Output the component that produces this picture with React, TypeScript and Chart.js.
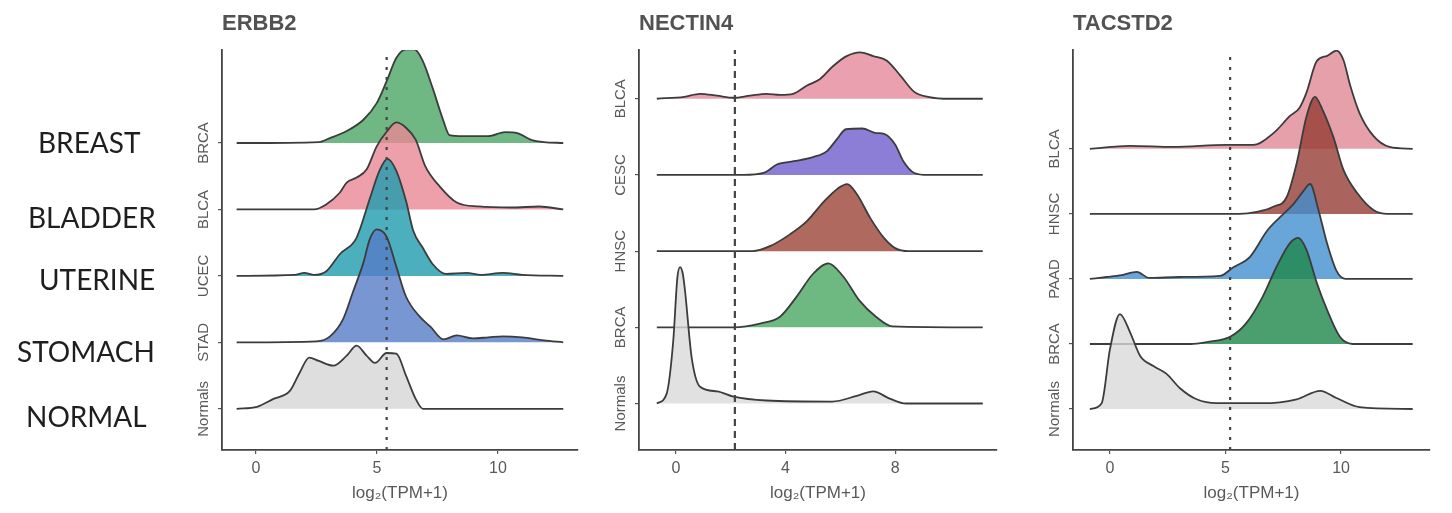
import React, { useEffect, useRef } from 'react';
import { Chart, registerables } from 'chart.js';

Chart.register(...registerables);

// ---------------- DATA ----------------
const leftLabels = ['BREAST', 'BLADDER', 'UTERINE', 'STOMACH', 'NORMAL'];
const axisTitle = 'log\u2082(TPM+1)';

// Panel 1: ERBB2 (categories top -> bottom)
const erbb2Title = 'ERBB2';
const erbb2Categories = ['BRCA', 'BLCA', 'UCEC', 'STAD', 'Normals'];
const erbb2Threshold = 5.4;
const erbb2XTicks = [0, 5, 10];
const erbb2BrcaX = [-0.8, 2.6, 3.06, 3.75, 4.44, 4.99, 5.4, 5.8, 6.2, 6.55, 6.9, 7.3, 7.75, 8.0, 8.55, 9.6, 10.3, 10.8, 11.4, 11.9, 12.7];
const erbb2BrcaD = [0, 0.015, 0.075, 0.18, 0.35, 0.6, 0.93, 1.28, 1.41, 1.41, 1.23, 0.83, 0.33, 0.12, 0.105, 0.105, 0.165, 0.15, 0.045, 0.015, 0];
const erbb2BlcaX = [-0.8, 2.4, 2.9, 3.47, 3.75, 4.16, 4.57, 4.99, 5.4, 5.8, 6.2, 6.6, 7.0, 7.6, 8.3, 9.2, 10.6, 11.7, 12.7];
const erbb2BlcaD = [0, 0, 0.075, 0.255, 0.405, 0.48, 0.6, 0.95, 1.17, 1.31, 1.23, 1.05, 0.65, 0.345, 0.105, 0.045, 0.03, 0.045, 0];
const erbb2UcecX = [-0.8, 1.6, 2.0, 2.4, 2.92, 3.47, 4.15, 4.71, 5.1, 5.43, 5.8, 6.2, 6.5, 6.9, 7.3, 7.85, 8.7, 9.3, 10.2, 11.0, 12.7];
const erbb2UcecD = [0, 0.015, 0.045, 0.015, 0.075, 0.33, 0.57, 1.17, 1.58, 1.76, 1.58, 1.13, 0.68, 0.42, 0.18, 0.03, 0.045, 0.015, 0.045, 0.015, 0];
const erbb2StadX = [-0.8, 2.5, 3.06, 3.6, 4.0, 4.44, 4.7, 4.99, 5.4, 5.8, 6.2, 6.76, 7.2, 7.75, 8.3, 8.96, 9.6, 10.2, 11.0, 11.9, 12.7];
const erbb2StadD = [0, 0.015, 0.09, 0.35, 0.75, 1.2, 1.55, 1.7, 1.59, 1.14, 0.69, 0.39, 0.24, 0.045, 0.105, 0.06, 0.075, 0.09, 0.075, 0.03, 0];
const erbb2NormX = [-0.8, 0.04, 0.72, 1.4, 1.8, 2.2, 2.6, 3.2, 3.75, 4.16, 4.57, 4.92, 5.4, 5.8, 6.2, 6.6, 6.9, 12.7];
const erbb2NormD = [0, 0.03, 0.15, 0.27, 0.54, 0.77, 0.72, 0.65, 0.8, 0.95, 0.8, 0.69, 0.84, 0.83, 0.5, 0.15, 0, 0];

// Panel 2: NECTIN4
const nectinTitle = 'NECTIN4';
const nectinCategories = ['BLCA', 'CESC', 'HNSC', 'BRCA', 'Normals'];
const nectinThreshold = 2.15;
const nectinXTicks = [0, 4, 8];
const nectinBlcaX = [-0.7, 0.3, 0.88, 1.5, 2.1, 2.7, 3.3, 3.8, 4.28, 4.77, 5.26, 5.74, 6.23, 6.72, 7.2, 7.7, 8.2, 8.7, 9.2, 10.0, 11.2];
const nectinBlcaD = [0, 0.026, 0.065, 0.04, 0.013, 0.04, 0.065, 0.052, 0.065, 0.17, 0.26, 0.43, 0.56, 0.61, 0.56, 0.5, 0.3, 0.09, 0.026, 0, 0];
const nectinCescX = [-0.7, 2.45, 3.2, 3.7, 4.3, 5.0, 5.5, 5.9, 6.2, 6.8, 7.3, 7.6, 8.0, 8.3, 8.7, 9.2, 11.2];
const nectinCescD = [0, 0, 0.026, 0.14, 0.18, 0.235, 0.31, 0.48, 0.6, 0.61, 0.55, 0.54, 0.4, 0.18, 0.026, 0, 0];
const nectinHnscX = [-0.7, 2.8, 3.43, 4.16, 4.77, 5.4, 5.9, 6.25, 6.6, 7.1, 7.6, 8.0, 8.5, 11.2];
const nectinHnscD = [0, 0, 0.065, 0.22, 0.39, 0.65, 0.82, 0.88, 0.75, 0.43, 0.17, 0.04, 0, 0];
const nectinBrcaX = [-0.7, 2.1, 3.1, 3.8, 4.4, 5.0, 5.56, 6.1, 6.7, 7.3, 7.9, 11.2];
const nectinBrcaD = [0, 0, 0.052, 0.14, 0.4, 0.7, 0.84, 0.67, 0.35, 0.14, 0.013, 0];
const nectinNormX = [-0.7, -0.34, -0.1, 0.05, 0.15, 0.25, 0.33, 0.57, 0.88, 1.5, 2.1, 3.3, 5.7, 6.6, 7.2, 7.8, 8.4, 11.2];
const nectinNormD = [0, 0.13, 0.82, 1.65, 1.79, 1.7, 1.48, 0.61, 0.22, 0.16, 0.09, 0.04, 0.026, 0.1, 0.16, 0.065, 0, 0];

// Panel 3: TACSTD2
const tacTitle = 'TACSTD2';
const tacCategories = ['BLCA', 'HNSC', 'PAAD', 'BRCA', 'Normals'];
const tacThreshold = 5.2;
const tacXTicks = [0, 5, 10];
const tacBlcaX = [-0.87, 0.87, 2.74, 5.05, 6.2, 7.1, 7.8, 8.2, 8.5, 8.95, 9.4, 9.8, 10.1, 10.4, 10.8, 11.4, 12.1, 13.1];
const tacBlcaD = [0, 0.046, 0.03, 0.06, 0.06, 0.25, 0.51, 0.63, 0.86, 1.35, 1.43, 1.51, 1.37, 0.97, 0.55, 0.2, 0.03, 0];
const tacHnscX = [-0.87, 5.6, 6.35, 7.07, 7.65, 8.08, 8.5, 8.87, 9.2, 9.67, 10.1, 10.7, 11.4, 12.0, 13.1];
const tacHnscD = [0, 0, 0.03, 0.11, 0.26, 0.78, 1.49, 1.8, 1.6, 1.18, 0.68, 0.32, 0.06, 0, 0];
const tacPaadX = [-0.87, -0.14, 0.5, 1.16, 1.7, 3.0, 4.76, 5.34, 6.06, 6.8, 7.36, 7.94, 8.37, 8.66, 9.03, 9.4, 9.81, 10.2, 13.1];
const tacPaadD = [0, 0.03, 0.06, 0.11, 0.015, 0.03, 0.046, 0.18, 0.34, 0.74, 0.95, 1.15, 1.35, 1.46, 1.05, 0.54, 0.12, 0, 0];
const tacBrcaX = [-0.87, 3.5, 4.19, 5.2, 5.9, 6.6, 7.2, 7.79, 8.15, 8.5, 8.95, 9.4, 9.95, 10.5, 13.1];
const tacBrcaD = [0, 0, 0.03, 0.11, 0.32, 0.72, 1.18, 1.55, 1.63, 1.45, 0.94, 0.52, 0.11, 0, 0];
const tacNormX = [-0.87, -0.36, 0.0, 0.43, 0.87, 1.3, 1.88, 2.45, 3.03, 3.75, 4.62, 6.6, 8.08, 9.1, 9.8, 10.8, 13.1];
const tacNormD = [0, 0.09, 0.92, 1.46, 1.18, 0.82, 0.66, 0.54, 0.32, 0.15, 0.09, 0.09, 0.15, 0.28, 0.17, 0.03, 0];

// ---------------- STYLE / LAYOUT ----------------
const FONT = '"Liberation Sans", Arial, Helvetica, sans-serif';
const LINE_COLOR = '#3c3c3c';
const AXIS_COLOR = '#444444';
const TEXT_COLOR = '#595959';

type Panel = {
  key: string;
  title: string;
  categories: string[];
  xs: number[][];
  ds: number[][];
  fills: string[];
  threshold: number;
  thresholdDash: number[];
  xTicks: number[];
  xMin: number;
  xMax: number;
  yMin: number;
  yMax: number;
  canvasLeft: number;
  canvasWidth: number;
  yAxisWidth: number;
  rightPad: number;
  showLeftLabels?: boolean;
};

const leftLabelLayout = [
  { x: 38, dy: 0 },
  { x: 28, dy: 9 },
  { x: 39, dy: 4 },
  { x: 17, dy: 10 },
  { x: 26, dy: 8 },
];

const panels: Panel[] = [
  {
    key: 'erbb2',
    title: erbb2Title,
    categories: erbb2Categories,
    xs: [erbb2BrcaX, erbb2BlcaX, erbb2UcecX, erbb2StadX, erbb2NormX],
    ds: [erbb2BrcaD, erbb2BlcaD, erbb2UcecD, erbb2StadD, erbb2NormD],
    fills: ['rgba(75,165,100,0.8)', 'rgba(233,136,149,0.8)', 'rgba(30,155,174,0.8)', 'rgba(86,124,199,0.8)', 'rgba(214,214,214,0.8)'],
    threshold: erbb2Threshold,
    thresholdDash: [3, 7],
    xTicks: erbb2XTicks,
    xMin: -1.405,
    xMax: 13.31,
    yMin: -0.62,
    yMax: 5.4,
    canvasLeft: 0,
    canvasWidth: 600,
    yAxisWidth: 222,
    rightPad: 22,
    showLeftLabels: true,
  },
  {
    key: 'nectin4',
    title: nectinTitle,
    categories: nectinCategories,
    xs: [nectinBlcaX, nectinCescX, nectinHnscX, nectinBrcaX, nectinNormX],
    ds: [nectinBlcaD, nectinCescD, nectinHnscD, nectinBrcaD, nectinNormD],
    fills: ['rgba(230,136,155,0.8)', 'rgba(111,92,205,0.8)', 'rgba(155,68,55,0.8)', 'rgba(74,167,99,0.8)', 'rgba(218,218,218,0.8)'],
    threshold: nectinThreshold,
    thresholdDash: [7, 5],
    xTicks: nectinXTicks,
    xMin: -1.35,
    xMax: 11.72,
    yMin: -0.61,
    yMax: 4.64,
    canvasLeft: 600,
    canvasWidth: 440,
    yAxisWidth: 39,
    rightPad: 43,
  },
  {
    key: 'tacstd2',
    title: tacTitle,
    categories: tacCategories,
    xs: [tacBlcaX, tacHnscX, tacPaadX, tacBrcaX, tacNormX],
    ds: [tacBlcaD, tacHnscD, tacPaadD, tacBrcaD, tacNormD],
    fills: ['rgba(224,136,149,0.8)', 'rgba(150,60,52,0.8)', 'rgba(66,142,208,0.8)', 'rgba(30,135,74,0.8)', 'rgba(218,218,218,0.8)'],
    threshold: tacThreshold,
    thresholdDash: [3, 7],
    xTicks: tacXTicks,
    xMin: -1.6,
    xMax: 13.85,
    yMin: -0.63,
    yMax: 5.52,
    canvasLeft: 1040,
    canvasWidth: 412,
    yAxisWidth: 33,
    rightPad: 22,
  },
];

const CANVAS_H = 513;
const X_AXIS_H = 63;
const TOP_PAD = 50;

function buildConfig(p: Panel): any {
  const n = p.categories.length;
  const ridgeSets = p.categories.map((cat, i) => {
    const base = n - 1 - i;
    return {
      label: cat,
      data: p.xs[i].map((x, j) => ({ x, y: base + p.ds[i][j] })),
      borderColor: LINE_COLOR,
      borderWidth: 1.8,
      backgroundColor: p.fills[i],
      fill: { value: base },
      pointRadius: 0,
      cubicInterpolationMode: 'monotone',
    };
  });
  // lower rows drawn on top -> reverse (index 0 drawn last)
  const ordered = ridgeSets.slice().reverse();
  const thresholdSet = {
    label: 'threshold',
    data: [
      { x: p.threshold, y: p.yMin },
      { x: p.threshold, y: p.yMax },
    ],
    borderColor: '#444',
    borderWidth: 2.2,
    borderDash: p.thresholdDash,
    fill: false,
    pointRadius: 0,
  };

  const textPlugin = {
    id: 'ridgeText_' + p.key,
    afterDraw(chart: any) {
      const { ctx, chartArea, scales } = chart;
      ctx.save();
      // panel title
      ctx.fillStyle = '#525252';
      ctx.font = 'bold 22px ' + FONT;
      ctx.textAlign = 'left';
      ctx.textBaseline = 'middle';
      ctx.fillText(p.title, chartArea.left, 24);
      // rotated category labels
      ctx.font = '15px ' + FONT;
      ctx.fillStyle = TEXT_COLOR;
      p.categories.forEach((c, i) => {
        const y = scales.y.getPixelForValue(n - 1 - i);
        ctx.save();
        ctx.translate(chartArea.left - 18, y);
        ctx.rotate(-Math.PI / 2);
        ctx.textAlign = 'center';
        ctx.textBaseline = 'middle';
        ctx.fillText(c, 0, 0);
        ctx.restore();
      });
      if (p.showLeftLabels) {
        ctx.font = '28px Lato, "Open Sans", sans-serif';
        ctx.fillStyle = '#1e1e1e';
        ctx.textAlign = 'left';
        ctx.textBaseline = 'alphabetic';
        leftLabels.forEach((t, i) => {
          const y = scales.y.getPixelForValue(n - 1 - i) + leftLabelLayout[i].dy + 10;
          ctx.fillText(t, leftLabelLayout[i].x, y);
        });
      }
      ctx.restore();
    },
  };

  const gridOpts = {
    display: true,
    drawOnChartArea: false,
    drawTicks: true,
    tickLength: 4,
    color: '#555',
    lineWidth: 1.2,
  };
  const borderOpts = { display: true, color: AXIS_COLOR, width: 1.8 };

  return {
    type: 'line',
    data: { datasets: [thresholdSet, ...ordered] },
    options: {
      responsive: false,
      animation: false,
      events: [],
      layout: { padding: { top: TOP_PAD, left: 0, right: p.rightPad, bottom: 0 } },
      plugins: {
        legend: { display: false },
        tooltip: { enabled: false },
        title: { display: false },
      },
      scales: {
        x: {
          type: 'linear',
          min: p.xMin,
          max: p.xMax,
          afterBuildTicks: (s: any) => {
            s.ticks = p.xTicks.map((v) => ({ value: v }));
          },
          afterFit: (s: any) => {
            s.height = X_AXIS_H;
          },
          ticks: {
            color: TEXT_COLOR,
            font: { family: FONT, size: 16 },
            padding: 5,
            maxRotation: 0,
          },
          grid: gridOpts,
          border: borderOpts,
          title: {
            display: true,
            text: axisTitle,
            color: TEXT_COLOR,
            font: { family: FONT, size: 17 },
            padding: { top: 0, bottom: 9 },
          },
        },
        y: {
          type: 'linear',
          min: p.yMin,
          max: p.yMax,
          afterBuildTicks: (s: any) => {
            s.ticks = p.categories.map((_, i) => ({ value: i }));
          },
          afterFit: (s: any) => {
            s.width = p.yAxisWidth;
          },
          ticks: { display: false },
          grid: gridOpts,
          border: borderOpts,
        },
      },
    },
    plugins: [textPlugin],
  };
}

function RidgePanel({ panel }: { panel: Panel }) {
  const ref = useRef<HTMLCanvasElement | null>(null);
  useEffect(() => {
    if (!ref.current) return;
    const chart = new Chart(ref.current, buildConfig(panel));
    return () => chart.destroy();
  }, [panel]);
  return (
    <canvas
      ref={ref}
      width={panel.canvasWidth}
      height={CANVAS_H}
      style={{
        position: 'absolute',
        left: panel.canvasLeft,
        top: 0,
        width: panel.canvasWidth,
        height: CANVAS_H,
      }}
    />
  );
}

export default function App() {
  return (
    <div
      style={{
        position: 'absolute',
        left: 0,
        top: 0,
        width: 1452,
        height: 513,
        background: '#ffffff',
        overflow: 'hidden',
      }}
    >
      {panels.map((p) => (
        <RidgePanel key={p.key} panel={p} />
      ))}
    </div>
  );
}
